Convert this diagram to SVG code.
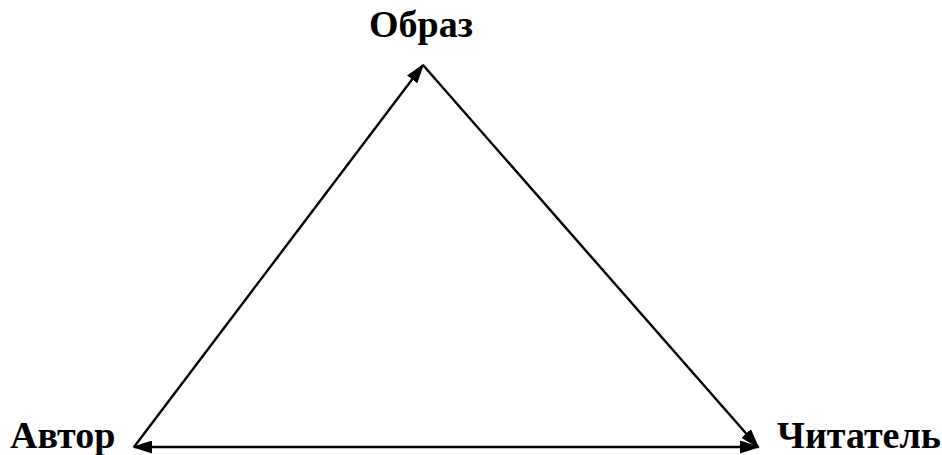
<svg xmlns="http://www.w3.org/2000/svg" width="942" height="455" viewBox="0 0 942 455">
<style>
text{font-family:"Liberation Serif","Times New Roman",serif;font-weight:bold;font-size:38px;fill:#000}
.c{stroke:#000;stroke-width:2.4;fill:none}
</style>
<defs>
<marker id="ah" viewBox="0 0 10 10" refX="9" refY="5" markerWidth="20" markerHeight="13" markerUnits="userSpaceOnUse" orient="auto-start-reverse" preserveAspectRatio="none">
<path d="M0,0 L10,5 L0,10 Z" fill="#000"/>
</marker>
</defs>
<g id="node-obraz"><text x="421" y="37" text-anchor="middle">Образ</text></g>
<g id="node-avtor"><text x="10" y="448">Автор</text></g>
<g id="node-chitatel"><text x="777" y="448">Читатель</text></g>
<g id="connectors">
<line class="c" x1="134" y1="447" x2="423" y2="65" marker-end="url(#ah)"/>
<line class="c" x1="423" y1="65" x2="758" y2="447" marker-end="url(#ah)"/>
<line class="c" x1="134" y1="447" x2="758" y2="447" marker-start="url(#ah)" marker-end="url(#ah)"/>
</g>
</svg>
